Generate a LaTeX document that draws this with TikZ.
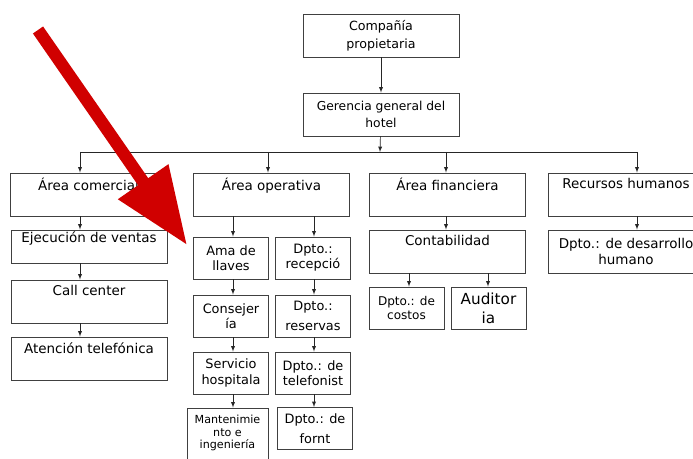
\documentclass[tikz,border=0pt]{standalone}
\usepackage{fontspec}
\setmainfont{DejaVu Sans}
\usetikzlibrary{arrows.meta}
\definecolor{arrowred}{RGB}{208,0,0}
\tikzset{
  box/.style={draw=black!75,line width=0.8pt,minimum width=4.68cm,minimum height=1.29cm,
    align=center,inner sep=1pt,font=\fontsize{11.5}{14}\selectfont},
  smallbox/.style={box,minimum width=2.27cm,minimum height=1.26cm,font=\fontsize{11}{13}\selectfont},
  link/.style={-latex,line width=0.6pt,black!85},
}
\begin{document}
\begin{tikzpicture}[x=0.03cm,y=-0.03cm]
    \useasboundingbox (0,0) rectangle (693,459);
    \clip (0,0) rectangle (693,459);
    % top
    \node[box,font=\fontsize{10.8}{15}\selectfont] (cia) at (381,35.5) {Compañía\\propietaria};
    \node[box,font=\fontsize{10.5}{14.5}\selectfont] (ger) at (381,114.5) {Gerencia general del\\hotel};
    % areas
    \node[box] (com) at (88.5,194.5) {Área comercial\\\strut};
    \node[box] (ope) at (271.5,194.5) {Área operativa\\\strut};
    \node[box] (fin) at (447.5,194.5) {Área financiera\\\strut};
    \node[box] (rrhh) at (626,194.5) {Recursos humanos\\\strut};
    % comercial
    \node[box,minimum height=0.99cm] (ven) at (89,246.5) {Ejecución de ventas\\[-2pt]\strut};
    \node[box] (call) at (89,301.5) {Call center\\\strut};
    \node[box] (ate) at (89,358.5) {Atención telefónica\\\strut};
    % operativa
    \node[smallbox] (ama) at (231,258) {Ama de\\llaves};
    \node[smallbox] (rec) at (313,258) {Dpto.:\\recepció};
    \node[smallbox] (cons) at (231,316) {Consejer\\ía};
    \node[smallbox] (res) at (313,316) {Dpto.:\\[4pt]reservas};
    \node[smallbox] (serv) at (231,373) {Servicio\\hospitala};
    \node[smallbox] (tel) at (313,373) {Dpto.: de\\telefonist};
    \node[smallbox,minimum width=2.43cm,minimum height=1.92cm,font=\fontsize{9.5}{10.5}\selectfont]
      (mant) at (227.5,440) {Mantenimie\\nto e\\ingeniería\\\strut};
    \node[smallbox] (font) at (315,428.5) {Dpto.: de\\[4pt]fornt};
    % financiera
    \node[box] (con) at (447.5,251.5) {Contabilidad\\\strut};
    \node[smallbox,minimum width=2.25cm,font=\fontsize{10.3}{11.5}\selectfont] (cos) at (406.5,308) {Dpto.: de\\costos};
    \node[smallbox,minimum width=2.25cm,font=\fontsize{13}{16}\selectfont] (aud) at (488.5,308) {Auditor\\ia};
    % rrhh
    \node[box] (dh) at (626,251.5) {Dpto.: de desarrollo\\humano};
    % connector columns
    \coordinate (bus) at (380,152);
    \coordinate (xcom) at (80,0);
    \coordinate (xope) at (268,0);
    \coordinate (xfin) at (446,0);
    \coordinate (xrh) at (637,0);
    \coordinate (xama) at (233,0);
    \coordinate (xrec) at (314,0);
    \coordinate (xcos) at (409,0);
    \coordinate (xaud) at (488,0);
    \draw[link] (cia) -- (ger);
    \draw[link] (ger) -- (bus);
    \draw[line width=0.6pt,black!85] (xcom |- bus) -- (xrh |- bus);
    \foreach \c/\n in {xcom/com,xope/ope,xfin/fin,xrh/rrhh}
        \draw[link] (\c |- bus) -- (\c |- \n.north);
    \foreach \a/\b/\c in {com/ven/xcom,ven/call/xcom,call/ate/xcom,
                          ope/ama/xama,ama/cons/xama,cons/serv/xama,serv/mant/xama,
                          ope/rec/xrec,rec/res/xrec,res/tel/xrec,tel/font/xrec,
                          fin/con/xfin,con/cos/xcos,con/aud/xaud,rrhh/dh/xrh}
        \draw[link] (\c |- \a.south) -- (\c |- \b.north);
    % red pointer
    \coordinate (redtail) at (38,30);
    \coordinate (redtip) at (187,245);
    \draw[arrowred,line width=0.37cm,-{Triangle[length=2.31cm,width=1.74cm]}] (redtail) -- (redtip);
\end{tikzpicture}
\end{document}
